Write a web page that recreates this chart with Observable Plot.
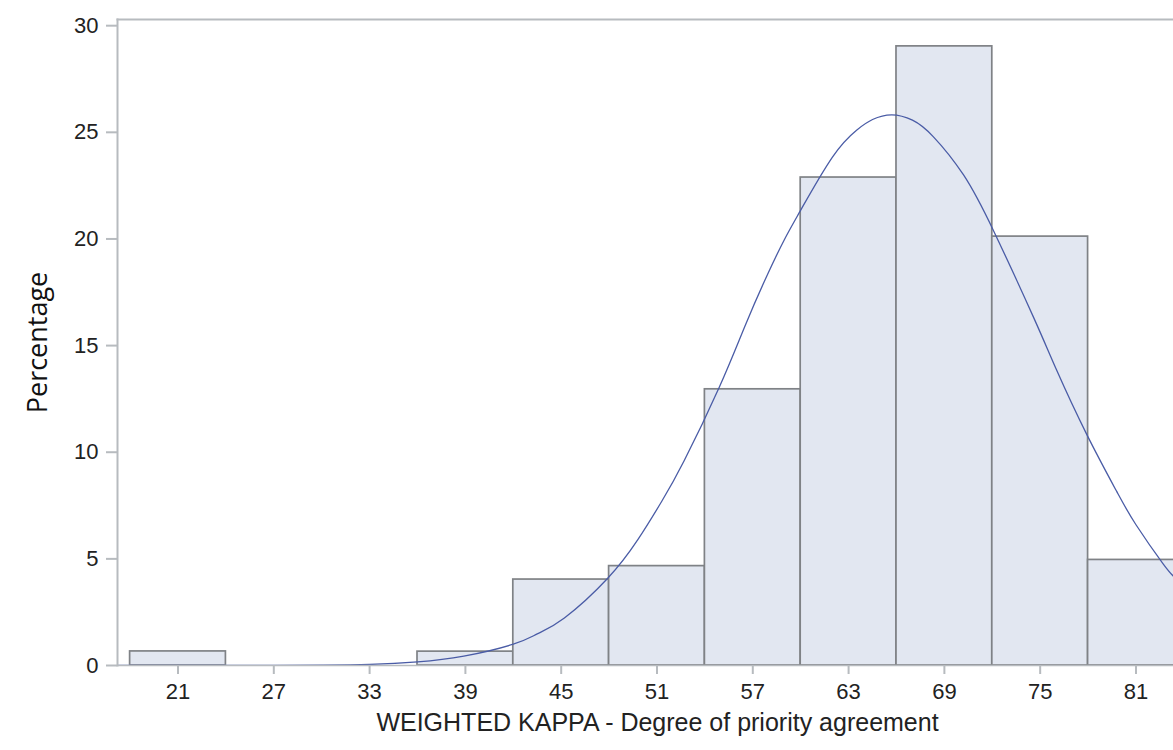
<!DOCTYPE html>
<html>
<head>
<meta charset="utf-8">
<script src="https://cdn.jsdelivr.net/npm/d3@7"></script>
<script src="https://cdn.jsdelivr.net/npm/@observablehq/plot@0.6"></script>
<style>
  html, body { margin: 0; padding: 0; background: #fff; overflow: hidden; }
</style>
</head>
<body>
<div id="chart"></div>
<script>
// Histogram bins (midpoints, width 6) and percentages
const binMids = [21, 27, 33, 39, 45, 51, 57, 63, 69, 75, 81];
const binPct  = [0.66, 0, 0, 0.65, 4.03, 4.66, 12.95, 22.88, 29.03, 20.11, 4.95];
const binWidth = 6;

// Fitted normal curve
const curveX = [17.2, 21, 24, 27, 30, 33, 36, 38.9, 42, 43.5, 45.2, 47.9, 49.8, 51.3, 52.7, 54.9, 56.5, 57.9, 59.0, 60.0, 62.0, 63.5, 64.5, 65.7, 67.0, 68.3, 70.2, 72.1, 74.6, 76.0, 77.9, 79.8, 81.0, 82.7, 83.4];
const curveY = [0, 0, 0, 0, 0.015, 0.05, 0.17, 0.44, 1.0, 1.48, 2.23, 4.08, 5.9, 7.7, 9.6, 13.05, 15.9, 18.3, 20.0, 21.35, 23.85, 25.1, 25.6, 25.82, 25.57, 24.8, 23.0, 20.35, 16.3, 13.9, 10.86, 8.15, 6.6, 4.77, 4.15];

const xTicks = [21, 27, 33, 39, 45, 51, 57, 63, 69, 75, 81];
const yTicks = [0, 5, 10, 15, 20, 25, 30];

const bins = binMids.map((m, i) => ({x1: m - binWidth / 2, x2: m + binWidth / 2, y: binPct[i]}));
const curve = curveX.map((x, i) => ({x, y: curveY[i]}));

const axisColor = "#b7bbbf";

const chart = Plot.plot({
  width: 1173,
  height: 750,
  marginLeft: 117,
  marginRight: 0,
  marginTop: 19,
  marginBottom: 85,
  style: {fontFamily: "'Liberation Sans', Arial, sans-serif", background: "#fff", overflow: "hidden"},
  x: {domain: [17.21, 83.35]},
  y: {domain: [0, 30.29]},
  marks: [
    Plot.rectY(bins, {x1: "x1", x2: "x2", y: "y", fill: "#e2e7f1", stroke: "#7f8286", strokeWidth: 1.7, clip: true}),
    Plot.line(curve, {x: "x", y: "y", stroke: "#4a5ca6", strokeWidth: 1.3, curve: "natural", clip: true}),
    Plot.ruleY([0], {stroke: axisColor, strokeWidth: 1.5}),
    Plot.frame({anchor: "top", stroke: axisColor, strokeWidth: 2}),
    Plot.frame({anchor: "left", stroke: axisColor, strokeWidth: 2}),
    Plot.axisX(xTicks, {tickSize: 9, tickPadding: 9, fontSize: 22, stroke: axisColor, color: "#222", label: null, strokeWidth: 2}),
    Plot.axisY(yTicks, {tickSize: 11, tickPadding: 8, fontSize: 22, stroke: axisColor, color: "#222", label: null, strokeWidth: 2}),
    Plot.text(["WEIGHTED KAPPA - Degree of priority agreement"], {frameAnchor: "bottom", dx: 12, dy: 65, fontSize: 25, fill: "#222", fontFamily: "'Liberation Sans', Arial, sans-serif"}),
    Plot.text(["Percentage"], {frameAnchor: "left", textAnchor: "middle", dx: -79, rotate: -90, fontSize: 27, fill: "#111", fontFamily: "'Open Sans', 'Noto Sans', sans-serif"})
  ]
});
document.getElementById("chart").appendChild(chart);
</script>
</body>
</html>
